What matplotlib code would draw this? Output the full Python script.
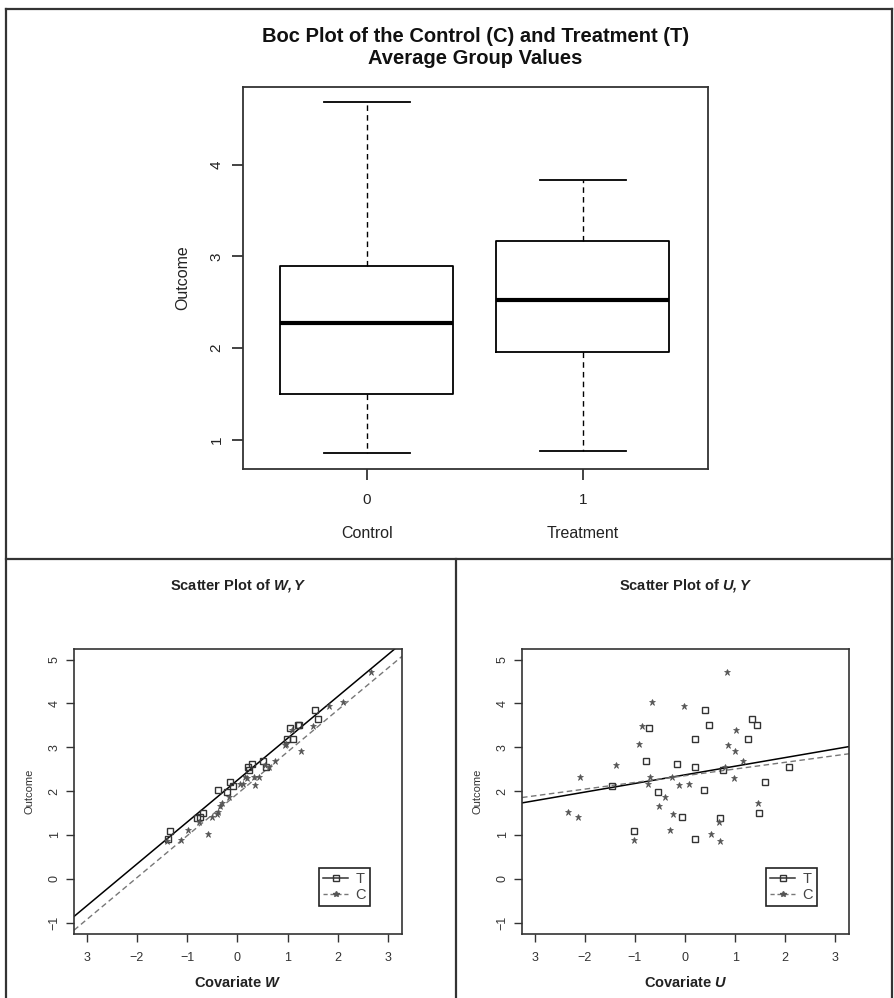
import numpy as np
import matplotlib
matplotlib.use("Agg")
import matplotlib.pyplot as plt
from matplotlib.lines import Line2D
from matplotlib.transforms import blended_transform_factory

plt.rcParams['font.family'] = ['Liberation Sans', 'DejaVu Sans']
plt.rcParams['mathtext.fontset'] = 'custom'
plt.rcParams['mathtext.bfit'] = 'Liberation Sans:italic:bold'

# box plot summaries (whisker low, Q1, median, Q3, whisker high)
groups = ['Control', 'Treatment']
group_ticks = ['0', '1']
whis_lo = [0.85, 0.88]
q1 = [1.50, 1.96]
median = [2.27, 2.52]
q3 = [2.90, 3.17]
whis_hi = [4.69, 3.84]

# treatment group: covariates W, U and outcome Y
t_w = [1.04, 0.50, -0.09, -1.34, -0.20, 0.28, -0.75, 0.99, 0.20, -1.38, 1.54,
       1.23, -0.38, -0.81, 0.22, 1.10, 1.61, 1.20, -0.69, -0.15, 0.57]
t_u = [-0.72, -0.78, -1.46, -1.01, -0.53, -0.15, -0.05, 0.19, 0.19, 0.19, 0.39,
       0.47, 0.37, 0.70, 0.76, 1.26, 1.33, 1.44, 1.48, 1.59, 2.08]
t_y = [3.43, 2.68, 2.12, 1.10, 1.98, 2.61, 1.40, 3.18, 2.55, 0.90, 3.85,
       3.50, 2.02, 1.38, 2.48, 3.19, 3.64, 3.50, 1.50, 2.20, 2.55]

# control group
c_w = [2.66, 2.09, 1.82, 1.51, 0.97, 1.08, 0.95, 1.26, 0.75, 0.55, 0.42, 0.32,
       0.04, 0.15, 0.34, 0.10, 0.63, 0.18, -0.16, -0.34, -0.41, -0.38, -0.51,
       -0.30, -0.77, -1.12, -0.99, -0.59, -1.40]
c_u = [0.83, -0.65, -0.01, -0.86, -0.91, 1.01, 0.85, 1.00, 1.15, -1.38, -2.09,
       -0.70, -0.73, -0.25, -0.11, 0.07, 0.80, 0.97, -0.40, -0.51, -0.23, -2.33,
       -2.14, 1.46, 0.68, -1.01, -0.29, 0.52, 0.70]
c_y = [4.71, 4.03, 3.94, 3.48, 3.08, 3.39, 3.05, 2.91, 2.68, 2.59, 2.33, 2.33,
       2.16, 2.31, 2.14, 2.16, 2.55, 2.29, 1.86, 1.67, 1.48, 1.52, 1.41, 1.73,
       1.29, 0.88, 1.12, 1.03, 0.86]

# fitted lines (intercept, slope)
t_fit_w = (2.25, 0.957)
c_fit_w = (1.94, 0.958)
t_fit_u = (2.37, 0.197)
c_fit_u = (2.35, 0.153)

x_ticks = [-3, -2, -1, 0, 1, 2, 3]
x_ticklabels = ['3', '\u22122', '\u22121', '0', '1', '2', '3']
y_ticks = [-1, 0, 1, 2, 3, 4, 5]
y_ticklabels = ['\u22121', '0', '1', '2', '3', '4', '5']

W, H = 895, 998
fig = plt.figure(figsize=(W / 100, H / 100), dpi=100)


def frac(x0, y0, x1, y1):
    # pixel box -> figure fraction rect
    return [x0 / W, 1 - y1 / H, (x1 - x0) / W, (y1 - y0) / H]


# ---- box plot ----
ax0 = fig.add_axes(frac(243, 87, 708, 469))
stats = []
for i in range(len(groups)):
    stats.append(dict(whislo=whis_lo[i], q1=q1[i], med=median[i],
                      q3=q3[i], whishi=whis_hi[i], label=group_ticks[i]))
ax0.bxp(stats, positions=[0, 1], widths=0.8, capwidths=0.4, showfliers=False,
        boxprops=dict(color='black', lw=1.3),
        whiskerprops=dict(color='black', lw=1.0, ls=(0, (4, 3))),
        capprops=dict(color='black', lw=1.3),
        medianprops=dict(color='black', lw=3.0))
ax0.set_xlim(-0.573, 1.58)
ax0.set_ylim(0.68, 4.85)
ax0.set_yticks([1, 2, 3, 4])
ax0.set_yticklabels(['1', '2', '3', '4'], rotation=90, va='center')
ax0.set_xticks([0, 1])
ax0.set_xticklabels(group_ticks)
ax0.tick_params(axis='both', labelsize=11, length=8, width=1.2,
                color='#222222', labelcolor='#222222')
ax0.tick_params(axis='y', pad=6)
ax0.tick_params(axis='x', pad=9)
ax0.set_ylabel('Outcome', fontsize=11.5, color='#222222', labelpad=14)
for s in ax0.spines.values():
    s.set_linewidth(1.3)
    s.set_color('#333333')
trans = blended_transform_factory(ax0.transData, ax0.transAxes)
for i, g in enumerate(groups):
    ax0.text(i, -0.168, g, transform=trans, ha='center', va='center',
             fontsize=11.5, color='#222222')
ax0.text(0.5, 1 + (87 - 47) / 382,
         'Boc Plot of the Control (C) and Treatment (T)\nAverage Group Values',
         transform=ax0.transAxes, ha='center', va='center', fontsize=14.5,
         fontweight='bold', linespacing=1.2, color='#111111')


# ---- scatter plots ----
def scatter_panel(rect, xt, yt, xc, yc, fit_t, fit_c, letter):
    ax = fig.add_axes(rect)
    xlim = (-3.25, 3.27)
    ax.set_xlim(*xlim)
    ax.set_ylim(-1.26, 5.24)
    xs = np.array(xlim)
    ax.plot(xs, fit_t[0] + fit_t[1] * xs, color='black', lw=1.1)
    ax.plot(xs, fit_c[0] + fit_c[1] * xs, color='#777777', lw=1.0,
            ls=(0, (4, 2.5)))
    ax.plot(xt, yt, ls='none', marker='s', ms=5, mfc='none', mec='#333333',
            mew=1.0)
    ax.plot(xc, yc, ls='none', marker='*', ms=4.5, color='#555555', mew=0.5)
    ax.set_xticks(x_ticks)
    ax.set_xticklabels(x_ticklabels)
    ax.set_yticks(y_ticks)
    ax.set_yticklabels(y_ticklabels, rotation=90, va='center')
    ax.tick_params(axis='both', labelsize=9, length=6, width=1.0,
                   color='#333333', labelcolor='#333333')
    ax.tick_params(axis='x', pad=7)
    ax.set_xlabel(r'Covariate $\mathbfit{%s}$' % letter, fontsize=10.5,
                  fontweight='bold', color='#222222', labelpad=8)
    ax.set_ylabel('Outcome', fontsize=8, color='#333333', labelpad=10)
    ax.set_title(r'Scatter Plot of $\mathbfit{%s,Y}$' % letter, fontsize=10.5,
                 fontweight='bold', color='#222222', pad=43)
    for s in ax.spines.values():
        s.set_linewidth(1.2)
        s.set_color('#333333')
    handles = [
        Line2D([], [], color='#333333', lw=1.1, marker='s', ms=4, mfc='none',
               mec='#333333'),
        Line2D([], [], color='#777777', lw=1.0, ls=(0, (3, 2)), marker='*',
               ms=4, mfc='#555555', mec='#555555'),
    ]
    leg = ax.legend(handles, ['T', 'C'], loc='lower right',
                    bbox_to_anchor=(0.903, 0.098), borderaxespad=0,
                    fancybox=False, framealpha=1, edgecolor='#222222',
                    fontsize=10.5, handlelength=1.7, handletextpad=0.5,
                    borderpad=0.3, labelspacing=0.1, numpoints=1)
    leg.get_frame().set_linewidth(1.2)
    for txt in leg.get_texts():
        txt.set_color('#444444')
    return ax


scatter_panel(frac(74, 649, 402, 934), t_w, t_y, c_w, c_y, t_fit_w, c_fit_w, 'W')
scatter_panel(frac(522, 649, 849, 934), t_u, t_y, c_u, c_y, t_fit_u, c_fit_u, 'U')

# panel frame lines
frame = dict(color='#333333', lw=1.6, transform=fig.transFigure)
fig.add_artist(Line2D([6 / W, 892 / W], [1 - 9 / H, 1 - 9 / H], **frame))
fig.add_artist(Line2D([6 / W, 6 / W], [0, 1 - 9 / H], **frame))
fig.add_artist(Line2D([892 / W, 892 / W], [0, 1 - 9 / H], **frame))
fig.add_artist(Line2D([6 / W, 892 / W], [1 - 559 / H, 1 - 559 / H], **frame))
fig.add_artist(Line2D([456 / W, 456 / W], [0, 1 - 559 / H], **frame))

fig.savefig('out.png', dpi=100, facecolor='white')
